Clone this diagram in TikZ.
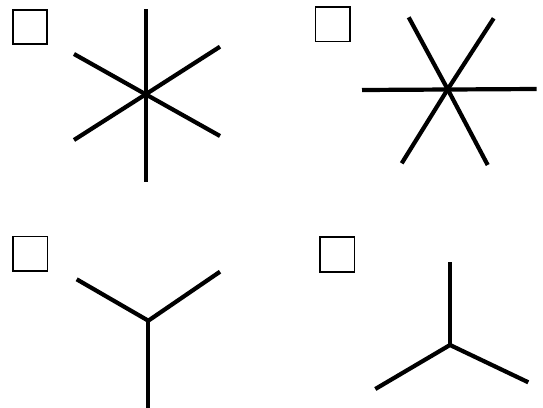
\documentclass[tikz,border=0pt]{standalone}
\begin{document}
\begin{tikzpicture}[x=1pt,y=-1pt,
  chk/.style={draw=black,line width=1.6pt,fill=white,minimum width=34.5pt,minimum height=34.5pt,inner sep=0pt,outer sep=0pt},
  spoke/.style={draw=black,line width=4.2pt,line cap=butt}]
\useasboundingbox[fill=white] (0,0) rectangle (543,407);
% checkboxes
\node[chk] (b1) at (30,27) {};
\node[chk] (b2) at (332.6,24.2) {};
\node[chk] (b3) at (30.2,253.7) {};
\node[chk] (b4) at (337.3,254.5) {};
% star 1
\coordinate (c1) at (145.7,94.3);
\coordinate (t1) at (145.7,9);
\coordinate (d1) at (145.7,182);
\coordinate (ur1) at (220,46.7);
\coordinate (ll1) at (74,140);
\coordinate (ul1) at (74,54);
\coordinate (lr1) at (220,136);
\draw[spoke] (t1) -- (d1);
\draw[spoke] (ll1) -- (c1) -- (ur1);
\draw[spoke] (ul1) -- (c1) -- (lr1);
% star 2
\coordinate (c2) at (447.7,89.3);
\coordinate (l2) at (362,90);
\coordinate (r2) at (536.7,89);
\coordinate (ul2) at (408.7,17.3);
\coordinate (ur2) at (493.7,18.3);
\coordinate (ll2) at (401.7,163.3);
\coordinate (lr2) at (487.7,165);
\draw[spoke] (l2) -- (r2);
\draw[spoke] (ul2) -- (c2) -- (lr2);
\draw[spoke] (ur2) -- (c2) -- (ll2);
% Y 1
\coordinate (c3) at (148.3,320.7);
\coordinate (ul3) at (76.7,279.3);
\coordinate (ur3) at (220,271.7);
\coordinate (d3) at (148.3,410);
\draw[spoke] (ul3) -- (c3) -- (ur3);
\draw[spoke] (c3) -- (d3);
% Y 2
\coordinate (c4) at (450,345);
\coordinate (t4) at (450,262.3);
\coordinate (ll4) at (375.3,389);
\coordinate (lr4) at (528.3,382.3);
\draw[spoke] (t4) -- (c4);
\draw[spoke] (ll4) -- (c4) -- (lr4);
\end{tikzpicture}
\end{document}
